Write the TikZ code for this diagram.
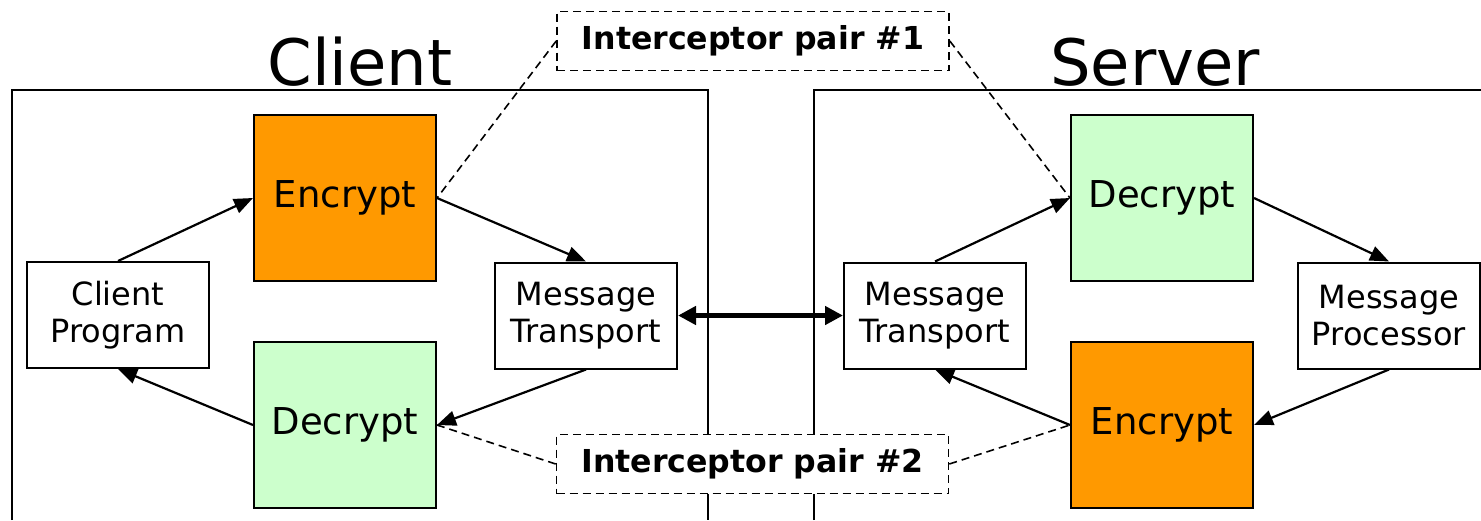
\documentclass[tikz,border=0pt]{standalone}
\usepackage{fontspec}
\setmainfont{DejaVu Sans}
\usepackage{tikz}
\usetikzlibrary{arrows,arrows.meta}
\usetikzlibrary{positioning}
\definecolor{encryptcolor}{RGB}{255,153,0}
\definecolor{decryptcolor}{RGB}{204,255,204}
\tikzset{
	>={Triangle[length=9.5pt,width=7.5pt]},
	frame/.style={draw=black, line width=1pt},
	stage/.style={draw=black, line width=1pt, fill=white, align=center,
		minimum width=91pt, minimum height=53pt, inner sep=0pt,
		font=\fontsize{16pt}{18.5pt}\selectfont},
	crypto/.style={draw=black, line width=1pt, align=center,
		minimum width=91pt, minimum height=83pt, inner sep=0pt,
		font=\fontsize{18.5pt}{22pt}\selectfont},
	encbox/.style={crypto, fill=encryptcolor},
	decbox/.style={crypto, fill=decryptcolor},
	pairbox/.style={draw=black, line width=0.8pt, dash pattern=on 4pt off 2.5pt,
		fill=white, minimum width=196pt, minimum height=29.5pt, inner sep=0pt,
		font=\fontsize{15.8pt}{18pt}\selectfont\bfseries},
	sidetitle/.style={font=\fontsize{32pt}{36pt}\selectfont, inner sep=0pt},
	flow/.style={draw=black, line width=1.1pt, ->},
	link/.style={draw=black, line width=2.5pt, <->,
		>={Triangle[length=9pt,width=9pt]}},
	pairline/.style={draw=black, line width=0.8pt, dash pattern=on 4pt off 2.5pt},
}

\begin{document}
\begin{tikzpicture}[x=0.5pt, y=-0.5pt]
\useasboundingbox (0,0) rectangle (1481,520);

% client and server frames
\draw[frame] (12,520) -- (12,90) -- (708,90) -- (708,520);
\draw[frame] (814,520) -- (814,90) -- (1481,90);
\node[sidetitle] (clienttitle) at (360,62) {Client};
\node[sidetitle] (servertitle) at (1155,62) {Server};

% client side
\node[stage] (program) at (118,315) {Client\\Program};
\node[encbox] (clientenc) at (345,198) {Encrypt};
\node[decbox] (clientdec) at (345,425) {Decrypt};
\node[stage] (clienttransport) at (586,315.5) {Message\\Transport};

% server side
\node[stage] (servertransport) at (935,315.5) {Message\\Transport};
\node[decbox] (serverdec) at (1162,198) {Decrypt};
\node[encbox] (serverenc) at (1162,425) {Encrypt};
\node[stage] (processor) at (1389,315.5) {Message\\Processor};

% interceptor pairs
\node[pairbox] (pairone) at (753,41) {Interceptor pair \#1};
\node[pairbox] (pairtwo) at (752.5,464) {Interceptor pair \#2};

\draw[pairline] (pairone.west) -- (clientenc.east);
\draw[pairline] (pairone.east) -- (serverdec.west);
\draw[pairline] (pairtwo.west) -- (clientdec.east);
\draw[pairline] (pairtwo.east) -- (serverenc.west);

% message flow
\draw[flow] (program.north) -- (clientenc.west);
\draw[flow] (clientenc.east) -- (clienttransport.north);
\draw[flow] (clienttransport.south) -- (clientdec.east);
\draw[flow] (clientdec.west) -- (program.south);

\draw[link] (clienttransport.east) -- (servertransport.west);

\draw[flow] (servertransport.north) -- (serverdec.west);
\draw[flow] (serverdec.east) -- (processor.north);
\draw[flow] (processor.south) -- (serverenc.east);
\draw[flow] (serverenc.west) -- (servertransport.south);
\end{tikzpicture}
\end{document}
